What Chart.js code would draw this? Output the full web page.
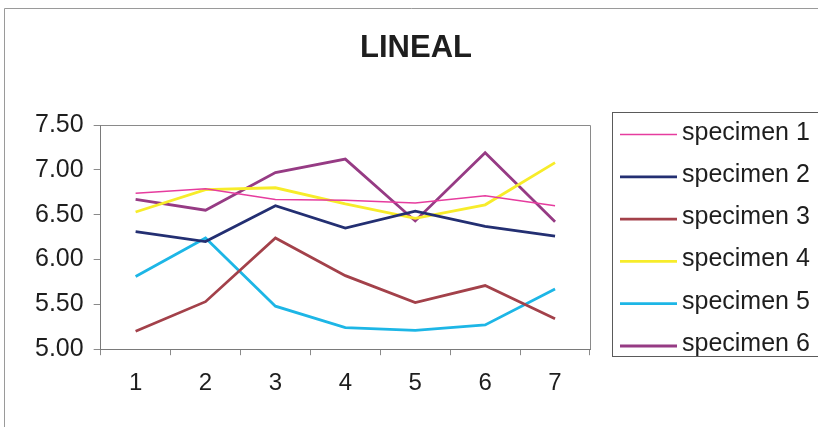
<!DOCTYPE html>
<html>
<head>
<meta charset="utf-8">
<title>LINEAL</title>
<script src="https://cdn.jsdelivr.net/npm/chart.js@4.4.1/dist/chart.umd.min.js"></script>
<style>
  html, body { margin: 0; padding: 0; background: #fff; }
  #wrap { width: 818px; height: 427px; position: relative; }
</style>
</head>
<body>
<div id="wrap"><canvas id="chart" width="818" height="427"></canvas></div>
<script>
// --- DATA ---
const chartTitle = 'LINEAL';
const categories = ['1', '2', '3', '4', '5', '6', '7'];
const yTicks = [5.0, 5.5, 6.0, 6.5, 7.0, 7.5];

const specimen1 = [6.74, 6.79, 6.67, 6.66, 6.63, 6.71, 6.60];
const specimen2 = [6.31, 6.20, 6.60, 6.35, 6.54, 6.37, 6.26];
const specimen3 = [5.20, 5.53, 6.24, 5.82, 5.52, 5.71, 5.34];
const specimen4 = [6.53, 6.78, 6.80, 6.62, 6.46, 6.61, 7.08];
const specimen5 = [5.81, 6.24, 5.48, 5.24, 5.21, 5.27, 5.67];
const specimen6 = [6.67, 6.55, 6.97, 7.12, 6.43, 7.19, 6.42];

const seriesNames = ['specimen 1', 'specimen 2', 'specimen 3', 'specimen 4', 'specimen 5', 'specimen 6'];
const seriesColors = ['#e63c9e', '#232f72', '#a3414a', '#f7ec2a', '#1db6e6', '#963b84'];
const seriesWidths = [1.5, 2.8, 2.8, 2.8, 2.8, 2.8];

Chart.defaults.font.family = "'Liberation Sans', Arial, sans-serif";
Chart.defaults.color = '#1e1e1e';

// --- FRAME, TITLE + LEGEND (drawn by hand, Excel style) ---
const framePlugin = {
    id: 'frame',
    afterDraw(chart) {
        const { ctx, chartArea: a } = chart;
        ctx.save();
        // outer chart frame (top + left visible)
        ctx.strokeStyle = '#9a9a9a';
        ctx.lineWidth = 1;
        ctx.beginPath();
        ctx.moveTo(4.5, 427); ctx.lineTo(4.5, 8.5); ctx.lineTo(818, 8.5);
        ctx.stroke();

        // title, centred on the whole chart frame
        ctx.fillStyle = '#1e1e1e';
        ctx.font = "bold 31px 'Liberation Sans', Arial, sans-serif";
        ctx.textAlign = 'center';
        ctx.textBaseline = 'alphabetic';
        ctx.fillText(chartTitle, 416, 57);

        // plot area border
        ctx.strokeStyle = '#8a8a8a';
        ctx.beginPath();
        ctx.moveTo(a.left, a.top + 0.5); ctx.lineTo(a.right + 0.5, a.top + 0.5); ctx.lineTo(a.right + 0.5, a.bottom);
        ctx.stroke();

        // legend box
        ctx.strokeStyle = '#5a5a5a';
        ctx.strokeRect(612.5, 112.5, 220, 244);

        chart.data.datasets.forEach((ds, i) => {
            const y = 134.5 + i * 42.3;
            ctx.strokeStyle = ds.borderColor;
            ctx.lineWidth = ds.borderWidth;
            ctx.beginPath();
            ctx.moveTo(620, y); ctx.lineTo(677, y);
            ctx.stroke();
            ctx.fillStyle = '#1e1e1e';
            ctx.font = "25px 'Liberation Sans', Arial, sans-serif";
            ctx.textBaseline = 'alphabetic';
            ctx.textAlign = 'left';
            ctx.fillText(ds.label, 682, y + 5);
        });
        ctx.restore();
    }
};

const seriesData = [specimen1, specimen2, specimen3, specimen4, specimen5, specimen6];

new Chart(document.getElementById('chart'), {
    type: 'line',
    data: {
        labels: categories,
        datasets: seriesData.map((d, i) => ({
            label: seriesNames[i],
            data: d,
            borderColor: seriesColors[i],
            backgroundColor: seriesColors[i],
            borderWidth: seriesWidths[i],
            pointRadius: 0,
            tension: 0,
            fill: false
        }))
    },
    options: {
        responsive: false,
        animation: false,
        layout: { padding: { left: 25, right: 228, top: 125, bottom: 15 } },
        plugins: {
            legend: { display: false },
            tooltip: { enabled: false },
            title: { display: false }
        },
        scales: {
            x: {
                offset: true,
                grid: { display: true, drawOnChartArea: false, offset: true, tickLength: 6, color: '#8a8a8a' },
                border: { color: '#7a7a7a', width: 1 },
                ticks: { font: { size: 24 }, padding: 14, color: '#1e1e1e' }
            },
            y: {
                min: yTicks[0],
                max: yTicks[yTicks.length - 1],
                afterBuildTicks: (axis) => { axis.ticks = yTicks.map(v => ({ value: v })); },
                grid: { display: true, drawOnChartArea: false, tickLength: 7, color: '#8a8a8a' },
                border: { color: '#7a7a7a', width: 1 },
                ticks: {
                    font: { size: 25 },
                    padding: 10,
                    color: '#1e1e1e',
                    callback: (v) => Number(v).toFixed(2)
                }
            }
        }
    },
    plugins: [framePlugin]
});
</script>
</body>
</html>
